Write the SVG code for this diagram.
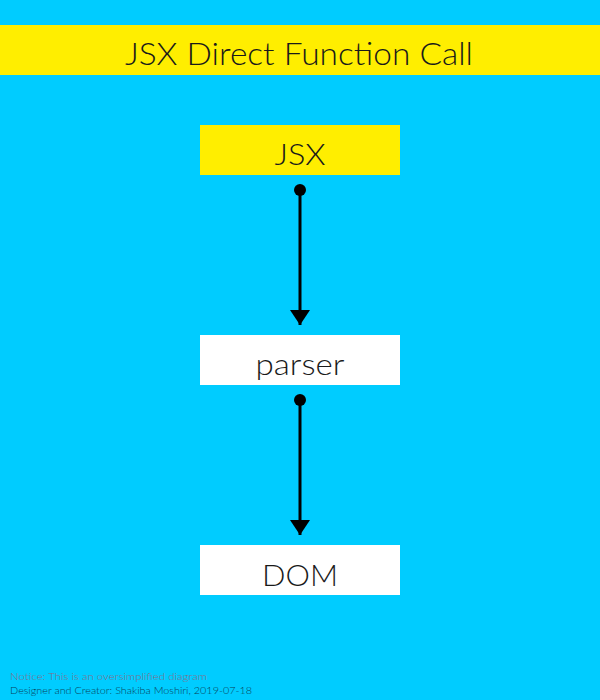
<svg xmlns="http://www.w3.org/2000/svg" width="600" height="700" viewBox="0 0 600 700">
<defs>
<style>
.t{font-family:Lato,"Open Sans","Liberation Sans",sans-serif;font-weight:300;fill:#1a1a1a;text-anchor:middle}
.box{stroke:none}
.conn{stroke:#000;stroke-width:3;fill:none}
.foot{font-family:Lato,"Open Sans","Liberation Sans",sans-serif;font-size:9.5px;font-weight:300}
</style>
<marker id="dot" markerWidth="12" markerHeight="12" refX="6" refY="6" markerUnits="userSpaceOnUse"><circle cx="6" cy="6" r="6" fill="#000"/></marker>
</defs>
<rect width="600" height="700" fill="#00CCFF"/>
<g id="title">
<rect x="0" y="25" width="600" height="50" fill="#FFEE00"/>
<text class="t" x="299" y="65" font-size="31" textLength="348" lengthAdjust="spacingAndGlyphs">JSX Direct Function Call</text>
</g>
<g id="jsx">
<rect class="box" x="200" y="125" width="200" height="50" fill="#FFEE00"/>
<text class="t" x="300" y="165" font-size="29" textLength="51" lengthAdjust="spacingAndGlyphs">JSX</text>
</g>
<g id="parser">
<rect class="box" x="200" y="335" width="200" height="50" fill="#FFFFFF"/>
<text class="t" x="300" y="375" font-size="29" textLength="89" lengthAdjust="spacingAndGlyphs">parser</text>
</g>
<g id="dom">
<rect class="box" x="200" y="545" width="200" height="50" fill="#FFFFFF"/>
<text class="t" x="300" y="586" font-size="29" textLength="76" lengthAdjust="spacingAndGlyphs">DOM</text>
</g>
<g id="connectors">
<path class="conn" d="M300,190 L300,325" marker-start="url(#dot)"/>
<path d="M290,310 L310,310 L300,325 Z" fill="#000"/>
<path class="conn" d="M300,400 L300,535" marker-start="url(#dot)"/>
<path d="M290,520 L310,520 L300,535 Z" fill="#000"/>
</g>
<g id="footer">
<text class="foot" x="10" y="680" fill="#8c6a84" textLength="197" lengthAdjust="spacingAndGlyphs">Notice: This is an oversimplified diagram</text>
<text class="foot" x="10" y="694" fill="#0a4058" textLength="242" lengthAdjust="spacingAndGlyphs">Designer and Creator: Shakiba Moshiri, 2019-07-18</text>
</g>
</svg>
